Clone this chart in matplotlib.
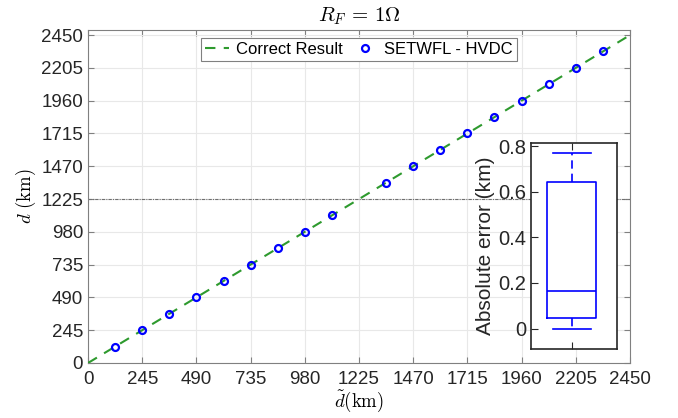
import matplotlib.pyplot as plt
import numpy as np

plt.rcParams["font.family"] = ["Liberation Sans", "DejaVu Sans"]
plt.rcParams["mathtext.fontset"] = "cm"

# true fault distances (km) and estimated distances from SETWFL - HVDC
d_true = [122.5, 245, 367.5, 490, 612.5, 735, 857.5, 980, 1102.5,
          1347.5, 1470, 1592.5, 1715, 1837.5, 1960, 2082.5, 2205, 2327.5]
d_est = [122.5, 245, 367.5, 490, 612.5, 735, 857.5, 980, 1102.5,
         1347.5, 1470, 1592.5, 1715, 1837.5, 1960, 2082.5, 2205, 2327.5]
ref_line = [0, 2450]
ticks = [0, 245, 490, 735, 980, 1225, 1470, 1715, 1960, 2205, 2450]

# absolute error box statistics (km)
err_whislo = 0.0
err_q1 = 0.044
err_med = 0.165
err_q3 = 0.643
err_whishi = 0.770

fig = plt.figure(figsize=(6.78, 4.18), dpi=100)
ax = fig.add_axes([0.1298, 0.1316, 0.7994, 0.7966])

ax.plot(ref_line, ref_line, "--", color="#2e9a2e", lw=1.5, dashes=(5, 4),
        label="Correct Result", zorder=3)
ax.plot(d_true, d_est, "o", mfc="none", mec="#0000ff", mew=1.6, ms=5,
        label="SETWFL - HVDC", zorder=4)
ax.axhline(1225, color="#6f6f6f", lw=0.8, ls=(0, (3, 1, 1, 1)), zorder=2)

ax.set_xlim(0, 2450)
ax.set_ylim(0, 2488)
ax.set_xticks(ticks)
ax.set_yticks(ticks)
ax.grid(True, color="#e8e8e8", lw=0.8)
ax.set_axisbelow(True)
ax.tick_params(direction="in", top=True, right=True, labelsize=13.5,
               colors="#808080", labelcolor="#262626", length=4)
ax.tick_params(axis="x", pad=6)
for s in ax.spines.values():
    s.set_color("#808080")
ax.set_title(r"$R_F\,=\,1\Omega$", fontsize=15, pad=6)
ax.set_xlabel(r"$\tilde{d}\mathrm{(km)}$", fontsize=13.5, labelpad=0)
ax.set_ylabel(r"$d\ \mathrm{(km)}$", fontsize=13.5, labelpad=2)

leg = ax.legend(loc="upper center", ncol=2, fontsize=12, frameon=True,
                fancybox=False, framealpha=1, edgecolor="#808080",
                borderaxespad=0.45, borderpad=0.25, handlelength=1.4,
                handletextpad=0.45, columnspacing=0.6)
leg.get_frame().set_linewidth(0.8)

# inset: box plot of absolute error
ins = fig.add_axes([0.7832, 0.165, 0.1264, 0.492])
stats = [dict(med=err_med, q1=err_q1, q3=err_q3,
              whislo=err_whislo, whishi=err_whishi, fliers=[])]
blue = "#0000ff"
ins.bxp(stats, positions=[1], widths=0.6, capwidths=0.47, showfliers=False,
        boxprops=dict(color=blue, lw=1.2),
        medianprops=dict(color=blue, lw=1.2),
        whiskerprops=dict(color=blue, lw=1.2, ls=(0, (5, 3))),
        capprops=dict(color=blue, lw=1.2))
ins.set_xlim(0.5, 1.55)
ins.set_ylim(-0.09, 0.812)
ins.set_yticks([0, 0.2, 0.4, 0.6, 0.8])
ins.set_yticklabels(["0", "0.2", "0.4", "0.6", "0.8"])
ins.set_xticks([1])
ins.set_xticklabels([""])
ins.tick_params(direction="in", top=True, labelsize=14.5, colors="#262626",
                length=5)
for s in ins.spines.values():
    s.set_color("#262626")
    s.set_linewidth(1.2)
ins.set_ylabel("Absolute error (km)", fontsize=15, color="#262626",
               labelpad=2)

fig.savefig("out.png", dpi=100)
